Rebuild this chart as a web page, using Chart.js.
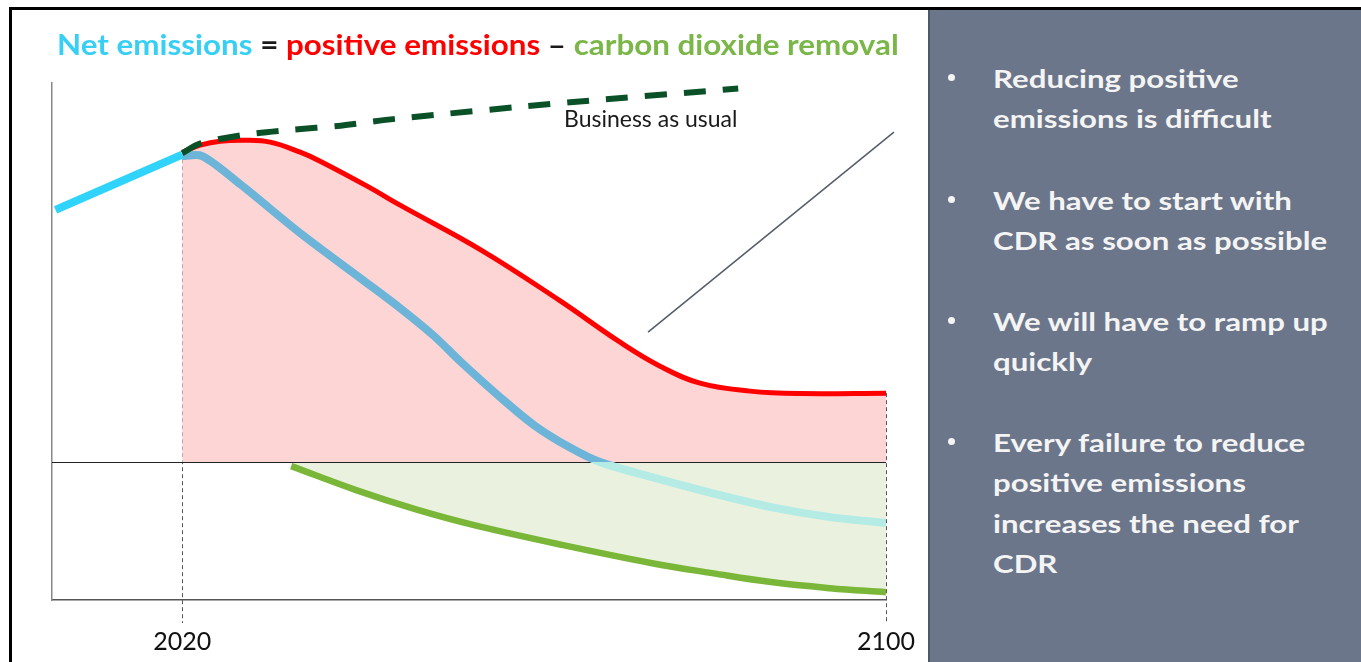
<!DOCTYPE html>
<html>
<head>
<meta charset="utf-8">
<script src="https://cdn.jsdelivr.net/npm/chart.js@4/dist/chart.umd.min.js"></script>
<style>
  html, body { margin:0; padding:0; background:#fff; width:1361px; height:662px; overflow:hidden; }
  #frameTop { position:absolute; left:9px; top:7px; width:1352px; height:3px; background:#000; }
  #frameLeft { position:absolute; left:9px; top:7px; width:3px; height:655px; background:#000; }
  #chartWrap { position:absolute; left:0; top:0; width:928px; height:662px; }
  #title { position:absolute; left:57px; top:24px; white-space:nowrap; font-family:Lato, sans-serif; font-weight:700; font-size:28px; line-height:40px; transform:scaleX(1.12); transform-origin:0 0; }
  #bau { position:absolute; left:564px; top:98px; white-space:nowrap; font-family:Lato, sans-serif; font-size:23px; line-height:40px; color:#1a1a1a; }
  #panel { position:absolute; left:928px; top:10px; width:433px; height:652px; background:#6b768a; border-left:2px solid #4f5869; box-sizing:border-box; }
  .dot { position:absolute; left:18px; width:7px; height:7px; border-radius:50%; background:#f4f4f4; }
  .para { position:absolute; left:63px; font-family:Lato, sans-serif; font-weight:700; font-size:24px; line-height:40.3px; color:#f4f4f4; white-space:nowrap; transform:scaleX(1.3); transform-origin:0 0; }
</style>
</head>
<body>
<div id="chartWrap"><canvas id="c" width="928" height="662"></canvas></div>
<div id="frameTop"></div>
<div id="frameLeft"></div>
<div id="title"><span style="color:#38cff5">Net emissions</span> <span style="color:#1a1a1a">=</span> <span style="color:#ff0000">positive emissions</span> <span style="color:#1a1a1a">–</span> <span style="color:#7ab648">carbon dioxide removal</span></div>
<div id="bau">Business as usual</div>
<div id="panel">
  <div class="dot" style="top:64px"></div>
  <div class="para" style="top:49px">Reducing positive<br>emissions is difficult</div>
  <div class="dot" style="top:186px"></div>
  <div class="para" style="top:171px">We have to start with<br>CDR as soon as possible</div>
  <div class="dot" style="top:307px"></div>
  <div class="para" style="top:292px">We will have to ramp up<br>quickly</div>
  <div class="dot" style="top:428px"></div>
  <div class="para" style="top:413px">Every failure to reduce<br>positive emissions<br>increases the need for<br>CDR</div>
</div>
<script>
// ---- data (years / values) ----
const tickYears = [2020, 2100];
const netHistYears = [2005.6, 2020];
const netHistValues = [18.3, 22.3];
const bauYears = [2020, 2022, 2026.6, 2032.3, 2038, 2044.2, 2064.1, 2083.2];
const bauValues = [22.4, 23.1, 23.7, 24.1, 24.4, 24.9, 26.1, 27.1];
const posYears = [2020, 2022.05, 2024.32, 2027.16, 2030, 2033.41, 2035.68, 2041.02, 2044.77, 2053.98, 2062.84, 2069.77, 2074.32, 2078.86, 2084.55, 2090.23, 2100];
const posValues = [22.48, 22.99, 23.28, 23.35, 23.21, 22.48, 21.83, 20.02, 18.64, 15.38, 11.75, 8.70, 6.96, 5.73, 5.15, 4.97, 5.0];
const netYears = [2020, 2022.27, 2026.59, 2033.41, 2041.02, 2044.77, 2048.64, 2051.7, 2056.14, 2060, 2063.98, 2067.5, 2073.41, 2080.23, 2086.93, 2093.64, 2100];
const netValues = [22.2, 22.2, 20.16, 16.61, 12.98, 11.17, 9.14, 7.25, 4.71, 2.68, 1.09, 0, -1.09, -2.25, -3.26, -3.99, -4.42];
const cdrYears = [2032.39, 2039.77, 2046.48, 2053.18, 2063.3, 2073.41, 2080.23, 2086.93, 2093.64, 2100];
const cdrValues = [-0.29, -2.03, -3.41, -4.57, -6.02, -7.33, -8.05, -8.7, -9.14, -9.43];
const pointerYears = [2072.95, 2100.9];
const pointerValues = [9.43, 23.94];

const pts = (xs, ys) => xs.map((x, i) => ({x: x, y: ys[i]}));

function netColor(ctx) {
  const chart = ctx.chart;
  const ca = chart.chartArea;
  if (!ca) return '#6cb4d8';
  const y0 = chart.scales.y.getPixelForValue(0);
  const t = Math.min(1, Math.max(0, (y0 - ca.top) / (ca.bottom - ca.top)));
  const g = chart.ctx.createLinearGradient(0, ca.top, 0, ca.bottom);
  g.addColorStop(0, '#6cb4d8');
  g.addColorStop(t, '#6cb4d8');
  g.addColorStop(t, '#b4ebe5');
  g.addColorStop(1, '#b4ebe5');
  return g;
}

const guideLines = {
  id: 'guideLines',
  beforeDatasetsDraw(chart) {
    const {ctx, chartArea, scales} = chart;
    ctx.save();
    ctx.strokeStyle = '#555';
    ctx.lineWidth = 1;
    ctx.setLineDash([4, 3]);
    const ends = [[posYears[0], posValues[0]], [posYears[posYears.length - 1], posValues[posValues.length - 1]]];
    ends.forEach(([yr, v]) => {
      const x = Math.round(scales.x.getPixelForValue(yr)) + 0.5;
      ctx.beginPath();
      ctx.moveTo(x, scales.y.getPixelForValue(v));
      ctx.lineTo(x, chartArea.bottom + 23);
      ctx.stroke();
    });
    ctx.restore();
  },
  afterDatasetDraw(chart, args) {
    if (args.index !== 1) return;
    const {ctx, chartArea, scales} = chart;
    const y = Math.round(scales.y.getPixelForValue(0)) + 0.5;
    ctx.save();
    ctx.strokeStyle = '#222';
    ctx.lineWidth = 1.2;
    ctx.beginPath();
    ctx.moveTo(chartArea.left, y);
    ctx.lineTo(chartArea.right, y);
    ctx.stroke();
    ctx.restore();
  }
};

const line = (data, color, width, extra) => Object.assign({
  data: data, borderColor: color, borderWidth: width, pointRadius: 0, fill: false,
  tension: 0.4, borderCapStyle: 'butt', borderJoinStyle: 'round'
}, extra || {});

new Chart(document.getElementById('c'), {
  type: 'line',
  data: {
    datasets: [
      line(pts(posYears, posValues), '#ff0000', 5, {fill: 'origin', backgroundColor: '#fdd5d5', order: 6}),
      line(pts(cdrYears, cdrValues), '#7ab638', 6.5, {fill: 'origin', backgroundColor: '#eaf2df', order: 5}),
      line(pts(netYears, netValues), netColor, 8, {order: 3, tension: 0.3}),
      line(pts(netHistYears, netHistValues), '#2fd3fb', 8, {order: 2, tension: 0}),
      line(pts(bauYears, bauValues), '#0b5127', 6, {borderDash: [22, 17], order: 1, tension: 0.3}),
      line(pts(pointerYears, pointerValues), '#545c6a', 1.5, {order: 0, tension: 0, clip: false})
    ]
  },
  options: {
    responsive: false,
    devicePixelRatio: 1,
    animation: false,
    events: [],
    layout: { padding: { left: 52, right: 42, top: 83, bottom: 0 } },
    plugins: { legend: { display: false }, tooltip: { enabled: false }, title: { display: false } },
    scales: {
      x: {
        type: 'linear', min: 2005.2, max: 2100,
        afterBuildTicks: s => { s.ticks = tickYears.map(v => ({value: v})); },
        afterFit: s => { s.height = 62; s.paddingLeft = 0; s.paddingRight = 0; },
        grid: { display: false },
        border: { display: true, color: '#555', width: 1.5 },
        ticks: { color: '#111', font: { family: 'Lato', size: 25 }, padding: 19, maxRotation: 0, autoSkip: false,
                 callback: v => String(v) }
      },
      y: {
        type: 'linear', min: -10, max: 27.5,
        afterBuildTicks: s => { s.ticks = [{value: 0}]; },
        afterFit: s => { s.width = 0; },
        grid: { display: false },
        border: { display: true, color: '#888', width: 1.5 },
        ticks: { display: false }
      }
    }
  },
  plugins: [guideLines]
});
</script>
</body>
</html>
